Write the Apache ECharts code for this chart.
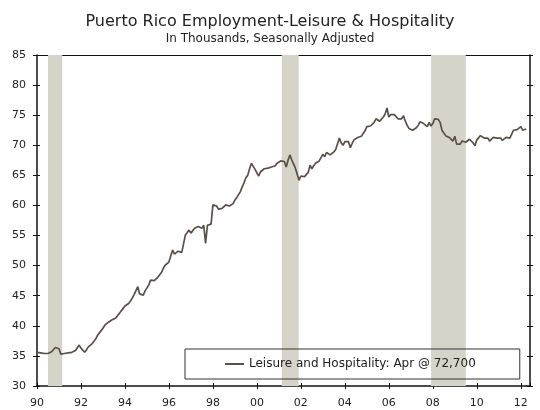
<!DOCTYPE html>
<html>
<head>
<meta charset="utf-8">
<script src="https://cdn.jsdelivr.net/npm/echarts@6/dist/echarts.min.js"></script>
<style>
html,body{margin:0;padding:0;background:#fff;}
#chart{width:540px;height:410px;}
</style>
</head>
<body>
<div id="chart"></div>
<script>
// Monthly data, Jan 1990 .. Apr 2012 (thousands)
const startYear = 1990;
const employment = [
  // 1990
  35.6,35.8,35.5,35.6,35.4,35.5,35.4,35.5,35.7,35.9,36.4,36.5,
  // 1991
  36.2,35.3,35.5,35.4,35.4,35.5,35.6,35.6,35.8,35.9,36.2,36.8,
  // 1992
  36.3,36.0,35.6,36.0,36.5,36.8,37.0,37.4,37.8,38.4,38.7,39.2,
  // 1993
  39.6,40.1,40.4,40.6,40.9,41.0,41.2,41.3,41.7,42.1,42.5,42.9,
  // 1994
  43.3,43.5,43.7,44.1,44.6,45.2,45.5,46.5,45.3,45.0,45.1,45.8,
  // 1995
  46.3,46.8,47.6,47.3,47.5,47.8,48.1,48.4,48.9,49.6,50.1,50.4,
  // 1996
  50.6,50.8,52.6,51.9,52.0,52.4,52.3,52.2,52.3,55.1,55.5,55.9,
  // 1997
  55.4,55.7,56.2,56.0,56.5,56.7,56.2,56.7,53.7,56.7,57.0,56.9,
  // 1998
  60.1,60.2,59.9,59.4,59.1,59.5,59.8,60.1,60.3,59.9,59.6,60.3,
  // 1999
  60.9,61.3,61.6,62.3,63.1,63.8,64.6,65.0,66.1,67.0,66.8,66.0,
  // 2000
  65.4,64.9,65.6,65.9,66.1,66.3,66.2,66.0,66.4,66.7,66.6,67.0,
  // 2001
  67.2,67.4,67.4,67.3,66.4,67.5,68.4,67.6,66.9,66.2,65.2,64.2,
  // 2002
  64.9,65.0,64.8,64.6,65.5,66.7,66.1,66.6,67.0,67.2,67.4,67.6,
  // 2003
  68.5,68.1,68.8,68.6,68.4,68.7,68.9,69.3,69.6,71.2,70.4,70.0,
  // 2004
  70.6,70.7,70.6,69.6,70.3,70.9,71.1,71.3,71.4,71.5,71.8,72.4,
  // 2005
  73.1,73.0,73.2,73.5,73.8,74.4,74.1,74.0,74.3,74.7,75.2,76.2,
  // 2006
  74.7,75.1,75.0,75.1,75.0,74.4,74.7,74.4,74.9,74.0,73.3,72.8,
  // 2007
  72.7,72.5,72.6,72.9,73.3,73.9,73.7,73.6,73.9,73.1,73.8,73.2,
  // 2008
  73.6,74.4,74.4,74.3,73.8,72.5,72.4,71.6,71.8,71.3,71.6,70.7,
  // 2009
  71.5,70.2,70.3,70.2,70.7,70.4,70.5,70.3,71.0,70.7,70.4,69.9,
  // 2010
  70.9,70.8,71.6,71.3,71.2,71.1,71.2,70.7,71.0,71.3,71.1,71.2,
  // 2011
  71.4,71.2,70.8,71.1,71.3,71.2,71.2,71.8,72.5,72.5,72.6,72.3,
  // 2012
  73.1,72.5,72.6,72.7
];
const recessionStarts = [1990.5, 2001.13, 2007.92];
const recessionEnds   = [1991.15, 2001.9, 2009.5];
const seriesName = 'Leisure and Hospitality: Apr @ 72,700';
const titleText = 'Puerto Rico Employment-Leisure & Hospitality';
const subtitleText = 'In Thousands, Seasonally Adjusted';
const xMin = 1990, xMax = 2012.42, xStep = 2;
const yMin = 30, yMax = 85, yStep = 5;

const points = employment.map((v, i) => [startYear + i / 12, v]);
const bands = recessionStarts.map((s, i) => [{xAxis: s}, {xAxis: recessionEnds[i]}]);

const FONT = 'DejaVu Sans';
const AX = '#111';
function xLabel(v){
  if (Math.abs(v - Math.round(v)) > 1e-6 || Math.round(v) % 2 !== 0) return '';
  return String(Math.round(v) % 100).padStart(2, '0');
}
const baseX = {type:'value', min:xMin, max:xMax, interval:xStep, splitLine:{show:false}};
const baseY = {type:'value', min:yMin, max:yMax, interval:yStep, splitLine:{show:false}};

const chart = echarts.init(document.getElementById('chart'), null, {renderer:'canvas'});
chart.setOption({
  animation:false,
  backgroundColor:'#fff',
  title:[
    {text:titleText, left:'center', top:9, textStyle:{fontFamily:FONT, fontSize:16, fontWeight:'normal', color:'#222'}},
    {text:subtitleText, left:'center', top:28, textStyle:{fontFamily:FONT, fontSize:12, fontWeight:'normal', color:'#222'}}
  ],
  grid:{left:37, right:10, top:55, bottom:24, containLabel:false},
  legend:{
    left:185, top:349,
    padding:[9, 44, 9, 40],
    borderColor:'#333', borderWidth:1,
    icon:'rect',
    itemWidth:19, itemHeight:2, itemGap:5,
    textStyle:{fontFamily:FONT, fontSize:12, color:'#222'},
    data:[{name:seriesName, icon:'rect'}]
  },
  xAxis:[
    Object.assign({}, baseX, {position:'bottom',
      axisLine:{show:true, lineStyle:{color:AX, width:1.5}},
      axisTick:{show:true, inside:false, length:3, lineStyle:{color:AX, width:1}},
      axisLabel:{show:true, margin:12, formatter:xLabel, fontFamily:FONT, fontSize:11, color:'#222', showMaxLabel:false}}),
    Object.assign({}, baseX, {position:'bottom',
      axisLine:{show:false},
      axisTick:{show:true, inside:true, length:3, lineStyle:{color:AX, width:1}},
      axisLabel:{show:false}}),
    Object.assign({}, baseX, {position:'top',
      axisLine:{show:true, lineStyle:{color:AX, width:1}},
      axisTick:{show:false}, axisLabel:{show:false}})
  ],
  yAxis:[
    Object.assign({}, baseY, {position:'left',
      axisLine:{show:true, lineStyle:{color:AX, width:1.5}},
      axisTick:{show:true, inside:false, length:4, lineStyle:{color:AX, width:1}},
      axisLabel:{show:true, margin:11, fontFamily:FONT, fontSize:11, color:'#222'}}),
    Object.assign({}, baseY, {position:'left',
      axisLine:{show:false},
      axisTick:{show:true, inside:true, length:3, lineStyle:{color:AX, width:1}},
      axisLabel:{show:false}}),
    Object.assign({}, baseY, {position:'right',
      axisLine:{show:true, lineStyle:{color:AX, width:1.5}},
      axisTick:{show:true, inside:false, length:3, lineStyle:{color:AX, width:1}},
      axisLabel:{show:false}}),
    Object.assign({}, baseY, {position:'right',
      axisLine:{show:false},
      axisTick:{show:true, inside:true, length:3, lineStyle:{color:AX, width:1}},
      axisLabel:{show:false}})
  ],
  series:[{
    name:seriesName,
    type:'line',
    xAxisIndex:0, yAxisIndex:0,
    data:points,
    showSymbol:false, symbol:'none',
    lineStyle:{color:'#5b5046', width:1.7},
    itemStyle:{color:'#5b5046'},
    z:3,
    markArea:{silent:true, itemStyle:{color:'#d6d3c8'}, data:bands}
  }]
});
</script>
</body>
</html>
